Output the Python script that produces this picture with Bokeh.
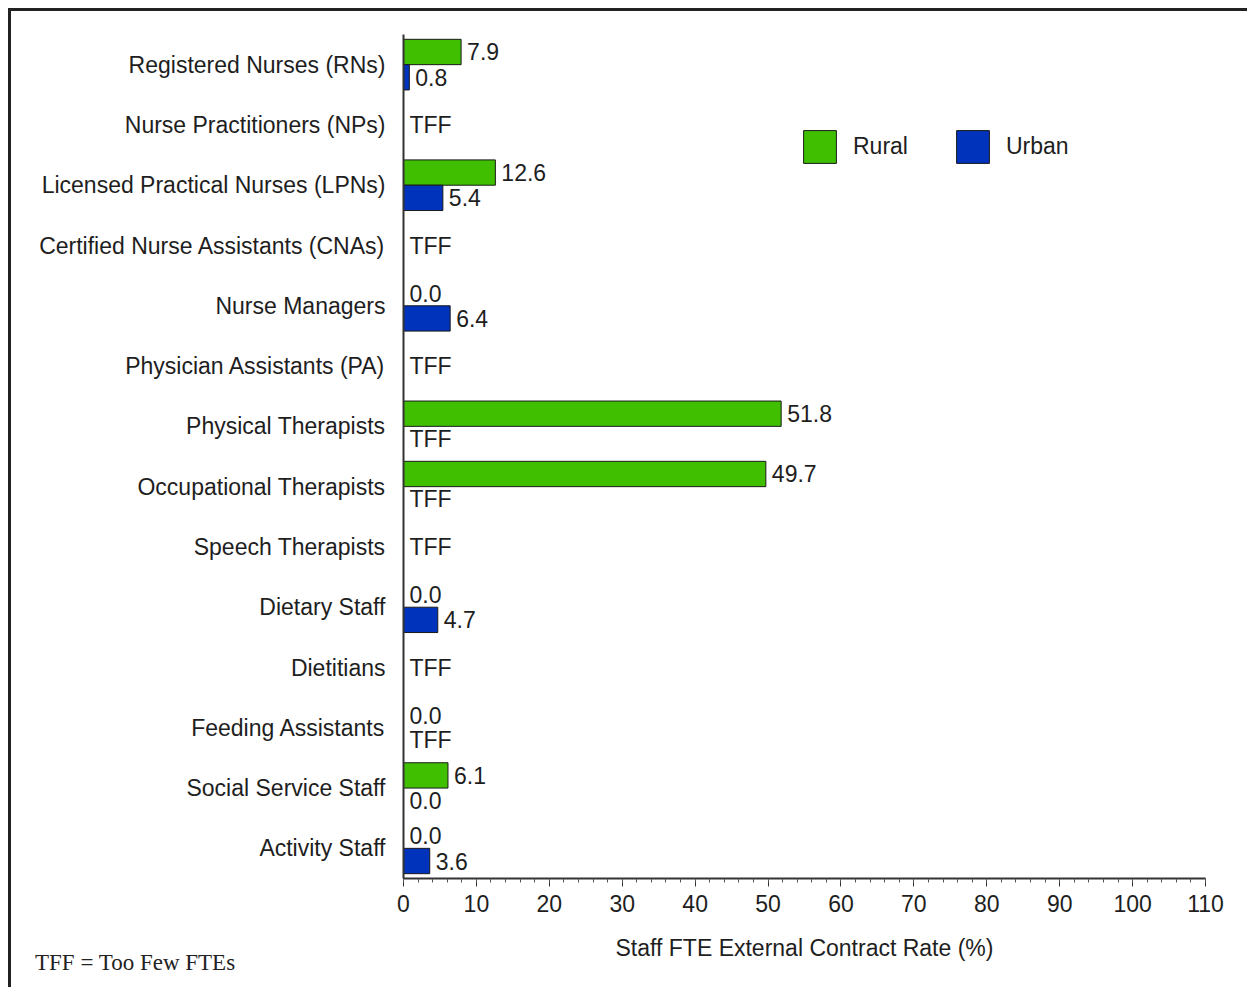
from bokeh.plotting import figure
from bokeh.models import (Range1d, FixedTicker, SingleIntervalTicker, ColumnDataSource,
                          Legend, LegendItem, Div)
from bokeh.layouts import column
from bokeh.core.properties import value
from bokeh.embed import file_html
from bokeh.resources import INLINE

categories = ["Registered Nurses (RNs)", "Nurse Practitioners (NPs)",
              "Licensed Practical Nurses (LPNs)", "Certified Nurse Assistants (CNAs)",
              "Nurse Managers", "Physician Assistants (PA)", "Physical Therapists",
              "Occupational Therapists", "Speech Therapists", "Dietary Staff",
              "Dietitians", "Feeding Assistants", "Social Service Staff", "Activity Staff"]
# None = TFF (Too Few FTEs)
rural = [7.9, None, 12.6, None, 0.0, None, 51.8, 49.7, None, 0.0, None, 0.0, 6.1, 0.0]
urban = [0.8, None, 5.4, None, 6.4, None, None, None, None, 4.7, None, None, 0.0, 3.6]

GREEN = "#3fbf00"
BLUE = "#0033bb"
TXT = "#1e1e1e"
FONT = "Liberation Sans"
FS = "23px"
OFF = 0.21
BH = 0.42

n = len(categories)
p = figure(width=1239, height=979, output_backend="svg", toolbar_location=None,
           x_range=Range1d(0, 110), y_range=Range1d(n - 0.5, -0.5),
           min_border_left=392, min_border_top=23, min_border_right=45,
           min_border_bottom=112)
p.styles = {"border-top": "3px solid #222", "border-left": "3px solid #222",
            "margin-top": "8px", "margin-left": "8px"}
p.outline_line_color = None
p.xgrid.visible = False
p.ygrid.visible = False

ry = [i - OFF for i, v in enumerate(rural) if v is not None]
rx = [v for v in rural if v is not None]
uy = [i + OFF for i, v in enumerate(urban) if v is not None]
ux = [v for v in urban if v is not None]

rsrc = ColumnDataSource(dict(y=ry, right=rx))
usrc = ColumnDataSource(dict(y=uy, right=ux))
r_r = p.hbar(y="y", right="right", left=0, height=BH, source=rsrc,
             fill_color=GREEN, line_color="#1a1a1a", line_width=1)
r_u = p.hbar(y="y", right="right", left=0, height=BH, source=usrc,
             fill_color=BLUE, line_color="#1a1a1a", line_width=1)

# value labels
lx, ly, lt = [], [], []
for i in range(n):
    rv, uv = rural[i], urban[i]
    if rv is None and uv is None:
        lx.append(0); ly.append(i); lt.append("TFF")
        continue
    for v, y in ((rv, i - OFF), (uv, i + OFF)):
        lx.append(0 if v is None else v)
        ly.append(y)
        lt.append("TFF" if v is None else f"{v:.1f}")
lsrc = ColumnDataSource(dict(x=lx, y=ly, t=lt))
p.text(x="x", y="y", text="t", source=lsrc, x_offset=6, text_align="left",
       text_baseline="middle", text_font=value(FONT), text_font_size=FS,
       text_color=TXT)

# axes
xa = p.xaxis[0]
xa.ticker = SingleIntervalTicker(interval=10, num_minor_ticks=5)
xa.axis_label = "Staff FTE External Contract Rate (%)"
xa.axis_label_text_font = FONT
xa.axis_label_text_font_size = FS
xa.axis_label_text_font_style = "normal"
xa.axis_label_text_color = TXT
xa.axis_label_standoff = 20
xa.major_label_text_font = FONT
xa.major_label_text_font_size = FS
xa.major_label_text_color = TXT
xa.major_label_standoff = 8
xa.axis_line_color = "#333"
xa.axis_line_width = 2
xa.major_tick_line_color = "#333"
xa.major_tick_out = 8
xa.major_tick_in = 0
xa.minor_tick_line_color = "#555"
xa.minor_tick_out = 4
xa.minor_tick_in = 0

ya = p.yaxis[0]
ya.ticker = FixedTicker(ticks=list(range(n)))
ya.major_label_overrides = {i: c for i, c in enumerate(categories)}
ya.major_label_text_font = FONT
ya.major_label_text_font_size = FS
ya.major_label_text_color = TXT
ya.major_label_standoff = 12
ya.major_tick_line_color = None
ya.minor_tick_line_color = None
ya.axis_line_color = "#333"
ya.axis_line_width = 2

legend = Legend(items=[LegendItem(label="Rural", renderers=[r_r]),
                       LegendItem(label="Urban", renderers=[r_u])],
                orientation="horizontal", location=(396, 711),
                glyph_width=41, glyph_height=41, label_standoff=13, spacing=44,
                padding=0, margin=0, border_line_alpha=0, background_fill_alpha=0,
                label_text_font=FONT, label_text_font_size=FS, label_text_color=TXT)
p.add_layout(legend, "center")

note = Div(text="TFF = Too Few FTEs", width=300, height=26, margin=(-37, 0, 0, 35),
           styles={"font-family": "'Liberation Serif'", "font-size": "23px",
                   "color": "#222", "line-height": "26px", "white-space": "nowrap"})

layout = column(p, note, spacing=0)
open("out.html", "w").write(file_html(layout, INLINE))
